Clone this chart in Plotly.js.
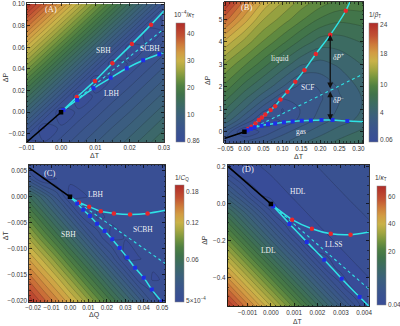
<!DOCTYPE html>
<html><head><meta charset="utf-8">
<script src="https://cdn.plot.ly/plotly-3.0.1.min.js"></script>
<style>html,body{margin:0;padding:0;background:#fff}#chart{width:400px;height:326px}</style>
</head><body><div id="chart"></div>
<script>
// ================= Panel A : 10^-4/kappa_T over (dT, dP) =================
const xGridA = [-0.01, -0.005, 0, 0.005, 0.01, 0.015, 0.02, 0.025, 0.03];
const yGridA = [-0.0275, -0.015, 0, 0.015, 0.03, 0.045, 0.06, 0.075, 0.09, 0.1];
const zA = [
 [1.5, 2.4, 4.2, 5.9, 7.7, 9.5, 11.2, 13.0, 14.7],
 [5.6, 0.9, 2.7, 4.5, 6.2, 8.0, 9.7, 11.5, 13.3],
 [10.5, 5.7, 0.9, 2.7, 4.4, 6.2, 7.9, 9.7, 11.5],
 [15.4, 10.6, 5.8, 1.0, 2.6, 4.4, 6.1, 7.9, 9.7],
 [20.3, 15.5, 10.7, 5.9, 1.1, 2.6, 4.3, 6.1, 7.9],
 [25.3, 20.5, 15.6, 10.8, 6.0, 1.2, 2.5, 4.3, 6.1],
 [30.2, 25.4, 20.6, 15.7, 10.9, 6.1, 1.3, 2.5, 4.3],
 [35.1, 30.3, 25.5, 20.7, 15.9, 11.0, 6.2, 1.4, 2.5],
 [40.0, 35.2, 30.4, 25.6, 20.8, 16.0, 11.2, 6.3, 1.5],
 [43.3, 38.5, 33.7, 28.9, 24.0, 19.2, 14.4, 9.6, 4.8]
];
const barValsA = [0.86, 10, 20, 30, 40];
const barPosA  = [0.014, 0.227, 0.456, 0.681, 0.908];
const barTextA = ['0.86', '10', '20', '30', '40'];
const critA = [0, 0];
const blackA_x = [-0.01, 0], blackA_y = [-0.0275, 0];
const redA_x = [0.0046, 0.0099, 0.015, 0.0207, 0.0263];
const redA_y = [0.014, 0.029, 0.0454, 0.063, 0.081];
const redFitA_x = [0, 0.0046, 0.0099, 0.015, 0.0207, 0.0263, 0.03];
const redFitA_y = [0, 0.014, 0.029, 0.0454, 0.063, 0.081, 0.0935];
const blueA_x = [0.0007, 0.0047, 0.0095, 0.0145, 0.0192, 0.024, 0.0287];
const blueA_y = [0.0021, 0.0114, 0.0222, 0.0318, 0.0407, 0.0481, 0.0537];
const blueFitA_x = [0, 0.0007, 0.0047, 0.0095, 0.0145, 0.0192, 0.024, 0.0287, 0.03];
const blueFitA_y = [0, 0.0021, 0.0114, 0.0222, 0.0318, 0.0407, 0.0481, 0.0537, 0.0552];
const widomA_x = [0, 0.03], widomA_y = [0, 0.077];

// ================= Panel B : 1/beta_T =================
const xGridB = [-0.053, 0, 0.05, 0.1, 0.15, 0.2, 0.25, 0.313];
const yGridB = [-0.5, 0, 0.5, 1, 1.5, 2, 3, 4, 5, 5.77];
const zB = [
 [1.5, 2.0, 2.5, 3.2, 4.0, 4.8, 5.6, 6.5],
 [2.5, 0.06, 1.2, 2.2, 3.0, 3.8, 4.6, 5.5],
 [5.0, 2.5, 0.6, 1.0, 2.0, 2.9, 3.7, 4.5],
 [6.5, 4.0, 2.0, 0.9, 1.8, 2.6, 3.4, 4.2],
 [8.0, 5.5, 3.5, 1.8, 1.8, 2.4, 3.2, 4.2],
 [9.5, 7.0, 5.0, 3.3, 2.2, 2.6, 3.4, 4.5],
 [12.5, 10.0, 8.0, 6.0, 4.2, 3.8, 4.3, 5.3],
 [16.5, 13.5, 11.0, 9.0, 7.2, 5.8, 5.8, 6.5],
 [21.0, 17.5, 14.0, 12.0, 10.0, 8.5, 7.8, 8.0],
 [24.0, 20.0, 16.5, 14.0, 12.0, 10.5, 9.5, 9.5]
];
const barValsB = [0.06, 4, 10, 18, 24];
const barPosB  = [0.017, 0.246, 0.485, 0.745, 0.989];
const barTextB = ['0.06', '4', '10', '18', '24'];
const critB = [0, 0];
const blackB_x = [-0.053, -0.025, 0], blackB_y = [-0.3, -0.14, 0];
const redB_x = [0.0097, 0.0185, 0.029, 0.038, 0.046, 0.055, 0.069, 0.081, 0.095, 0.113, 0.134, 0.158, 0.188, 0.226, 0.267];
const redB_y = [0.12, 0.22, 0.37, 0.52, 0.64, 0.77, 0.97, 1.14, 1.44, 1.78, 2.22, 2.74, 3.46, 4.31, 5.38];
const redFitB_x = [0].concat(redB_x, [0.278]);
const redFitB_y = [0].concat(redB_y, [5.77]);
const blueB_x = [0.002, 0.008, 0.017, 0.027, 0.045, 0.062, 0.081, 0.104, 0.127, 0.151, 0.175, 0.203, 0.232, 0.271];
const blueB_y = [0.02, 0.07, 0.13, 0.2, 0.27, 0.33, 0.37, 0.42, 0.46, 0.49, 0.5, 0.52, 0.52, 0.48];
const blueFitB_x = [0].concat(blueB_x, [0.313]);
const blueFitB_y = [0].concat(blueB_y, [0.45]);
const widomB_x = [0, 0.1, 0.2, 0.313], widomB_y = [0, 0.8, 1.62, 2.57];
const deltaP_x = 0.226;
const deltaP_y = [4.31, 1.86, 0.52];   // liquid spinodal, Widom line, gas spinodal

// ================= Panel C : 1/C_Q over (dQ, dT) =================
const xGridC = [-0.0222, -0.015, -0.0075, 0, 0.0075, 0.015, 0.0225, 0.03, 0.0375, 0.045, 0.0518];
const yGridC = [-0.0203, -0.016, -0.012, -0.008, -0.004, 0, 0.0035, 0.0062];
const zC = [
 [0.186, 0.167, 0.148, 0.129, 0.110, 0.090, 0.071, 0.052, 0.033, 0.013, 0.0007],
 [0.159, 0.140, 0.121, 0.102, 0.082, 0.063, 0.044, 0.025, 0.0055, 0.0011, 0.0019],
 [0.133, 0.115, 0.096, 0.076, 0.057, 0.038, 0.019, 0.0005, 0.0014, 0.0022, 0.003],
 [0.108, 0.089, 0.070, 0.051, 0.032, 0.0126, 0.0008, 0.0016, 0.0025, 0.0033, 0.0041],
 [0.083, 0.064, 0.045, 0.026, 0.0066, 0.0011, 0.0019, 0.0027, 0.0036, 0.0044, 0.0052],
 [0.057, 0.039, 0.020, 0.0005, 0.0013, 0.0022, 0.003, 0.0038, 0.0047, 0.0055, 0.0063],
 [0.016, 0.001, 0.0015, 0.002, 0.0023, 0.0031, 0.004, 0.0048, 0.0056, 0.0065, 0.0072],
 [0.001, 0.003, 0.004, 0.005, 0.0055, 0.006, 0.0065, 0.007, 0.0075, 0.008, 0.0085]
];
const barValsC = [0.0005, 0.06, 0.12, 0.18];
const barPosC  = [0.014, 0.365, 0.68, 0.946];
const barTextC = ['5×10<sup>−4</sup>', '0.06', '0.12', '0.18'];
const critC = [0, 0];
const blackC_x = [-0.0222, 0], blackC_y = [0.0056, 0];
const redC_x = [0.0048, 0.0104, 0.0167, 0.0238, 0.0326, 0.0421];
const redC_y = [-0.0011, -0.0019, -0.0028, -0.0032, -0.0034, -0.0032];
const redFitC_x = [0].concat(redC_x, [0.0518]);
const redFitC_y = [0].concat(redC_y, [-0.0026]);
const blueC_x = [0.0039, 0.0072, 0.0108, 0.0147, 0.0188, 0.0229, 0.0269, 0.031, 0.0353, 0.04, 0.0444, 0.0496];
const blueC_y = [-0.0013, -0.0025, -0.0037, -0.0052, -0.0066, -0.0082, -0.0099, -0.0117, -0.0137, -0.0156, -0.0179, -0.0202];
const blueFitC_x = [0].concat(blueC_x, [0.0505]);
const blueFitC_y = [0].concat(blueC_y, [-0.0206]);
const widomC_x = [0, 0.0518], widomC_y = [0, -0.0129];

// ================= Panel D : 1/kappa_T (liquid-liquid) =================
const xGridD = [-0.00186, -0.0012, -0.0006, 0, 0.0006, 0.0012, 0.0018, 0.0024, 0.003, 0.0036, 0.00421];
const yGridD = [-0.553, -0.45, -0.35, -0.25, -0.15, -0.05, 0.05, 0.15, 0.212];
const zD = [
 [63.6, 54.7, 46.7, 38.6, 30.3, 22.1, 16.9, 12.7, 8.5, 4.3, 0.06],
 [53.1, 44.2, 36.0, 27.8, 19.8, 15.6, 11.4, 7.2, 3.0, 0.16, 0.57],
 [42.8, 33.8, 25.6, 18.7, 14.5, 10.3, 6.1, 1.9, 0.27, 0.67, 1.08],
 [32.4, 23.4, 17.5, 13.3, 9.1, 5.0, 0.77, 0.37, 0.78, 1.19, 1.6],
 [22.0, 16.4, 12.2, 8.0, 3.8, 0.08, 0.48, 0.89, 1.29, 1.7, 2.1],
 [15.7, 11.1, 6.9, 2.7, 0.19, 0.59, 1.0, 1.4, 1.8, 2.2, 2.6],
 [8.9, 4.75, 0.95, 0.3, 0.7, 1.11, 1.51, 1.92, 2.32, 2.73, 3.14],
 [3.14, 0.3, 0.5, 0.81, 1.22, 1.62, 2.03, 2.43, 2.84, 3.24, 3.65],
 [0.1, 0.5, 0.8, 1.13, 1.53, 1.94, 2.34, 2.75, 3.15, 3.56, 3.96]
];
const barValsD = [0.04, 20, 40, 60];
const barPosD  = [0.0, 0.449, 0.678, 0.911];
const barTextD = ['0.04', '20', '40', '60'];
const critD = [0, 0];
const blackD_x = [-0.00186, 0], blackD_y = [0.204, 0];
const redD_x = [0.00091, 0.00176, 0.00257, 0.00342];
const redD_y = [-0.085, -0.134, -0.161, -0.166];
const redFitD_x = [0].concat(redD_x, [0.00421]);
const redFitD_y = [0].concat(redD_y, [-0.151]);
const blueD_x = [0.0001, 0.0008, 0.00154, 0.00229, 0.00304, 0.00381];
const blueD_y = [-0.012, -0.108, -0.205, -0.301, -0.404, -0.503];
const blueFitD_x = [0].concat(blueD_x, [0.00421]);
const blueFitD_y = [0].concat(blueD_y, [-0.553]);
const widomD_x = [0, 0.00421], widomD_y = [0, -0.46];

// ================= styling / helpers =================
const baseScale = [
 [0.00,'#384c98'],[0.12,'#3a558c'],[0.22,'#3b607c'],[0.32,'#3c6b62'],
 [0.40,'#40734b'],[0.47,'#4f8042'],[0.54,'#75953e'],[0.61,'#a3a641'],
 [0.68,'#c9b248'],[0.75,'#d29c43'],[0.82,'#cd7a3a'],[0.89,'#c25233'],[1.00,'#b02c29']
];
const CYAN = '#2fe3e6', RED = '#e8262b', BLUE = '#1f2ee6';
const px = X => X / 400, py = Y => 1 - Y / 326;

function toPos(v, kv, kp) {
  const n = kv.length; let i = 0;
  if (v <= kv[0]) i = 0; else if (v >= kv[n-1]) i = n - 2; else { while (v > kv[i+1]) i++; }
  return kp[i] + (v - kv[i]) * (kp[i+1] - kp[i]) / (kv[i+1] - kv[i]);
}
function axn(k) { return k === 1 ? '' : String(k); }
function contourTrace(xg, yg, zg, kv, kp, n, k) {
  const z = zg.map(r => r.map(v => Math.min(1, Math.max(0, toPos(v, kv, kp)))));
  const s = 1 / n;
  return {type:'contour', x:xg, y:yg, z:z, xaxis:'x'+axn(k), yaxis:'y'+axn(k),
    colorscale: baseScale, autocontour:false,
    contours:{start:s/2, end:1-s/2+1e-9, size:s, coloring:'fill', showlines:true},
    line:{color:'rgba(20,20,20,0.38)', width:0.5, smoothing:1},
    showscale:false, hoverinfo:'skip'};
}
function cbTrace(k, crit, kp, labels, left, bottom, lenPx) {
  return {type:'scatter', mode:'markers', x:[crit[0]], y:[crit[1]], xaxis:'x'+axn(k), yaxis:'y'+axn(k),
    hoverinfo:'skip',
    marker:{size:1, opacity:0, color:[0.5], cmin:0, cmax:1, colorscale:baseScale, showscale:true,
      colorbar:{x:px(left), xanchor:'left', xref:'paper', y:py(bottom), yanchor:'bottom', yref:'paper',
        len:lenPx, lenmode:'pixels', thickness:9, thicknessmode:'pixels', xpad:0, ypad:0,
        outlinewidth:0.5, outlinecolor:'#888', tickmode:'array', tickvals:kp, ticktext:labels,
        ticks:'', tickfont:{family:'Liberation Sans, Arial', size:6.5, color:'#444'},
        title:{text:''}}}};
}
function lineTrace(xs, ys, k, color, width, dash) {
  return {type:'scatter', mode:'lines', x:xs, y:ys, xaxis:'x'+axn(k), yaxis:'y'+axn(k),
    line:{color:color, width:width, dash:dash||'solid', shape:'spline', smoothing:0.6}, hoverinfo:'skip'};
}
function markTrace(xs, ys, k, color, symbol, size) {
  return {type:'scatter', mode:'markers', x:xs, y:ys, xaxis:'x'+axn(k), yaxis:'y'+axn(k),
    marker:{color:color, symbol:symbol, size:size, line:{width:0}}, hoverinfo:'skip'};
}
function panel(k, g, crit, bl, red, redFit, blue, blueFit, widom) {
  return [
    contourTrace(g.x, g.y, g.z, g.kv, g.kp, g.n, k),
    lineTrace(bl[0], bl[1], k, '#000', 1.6),
    lineTrace(widom[0], widom[1], k, CYAN, 1.1, 'dot'),
    lineTrace(redFit[0], redFit[1], k, CYAN, 1.5),
    lineTrace(blueFit[0], blueFit[1], k, CYAN, 1.5),
    markTrace(red[0], red[1], k, RED, 'circle', 4.5),
    markTrace(blue[0], blue[1], k, BLUE, 'square', 4),
    markTrace([crit[0]], [crit[1]], k, '#000', 'square', 4.5)
  ];
}

const data = [].concat(
  panel(1, {x:xGridA, y:yGridA, z:zA, kv:barValsA, kp:barPosA, n:31}, critA, [blackA_x, blackA_y],
        [redA_x, redA_y], [redFitA_x, redFitA_y], [blueA_x, blueA_y], [blueFitA_x, blueFitA_y], [widomA_x, widomA_y]),
  panel(2, {x:xGridB, y:yGridB, z:zB, kv:barValsB, kp:barPosB, n:22}, critB, [blackB_x, blackB_y],
        [redB_x, redB_y], [redFitB_x, redFitB_y], [blueB_x, blueB_y], [blueFitB_x, blueFitB_y], [widomB_x, widomB_y]),
  panel(3, {x:xGridC, y:yGridC, z:zC, kv:barValsC, kp:barPosC, n:25}, critC, [blackC_x, blackC_y],
        [redC_x, redC_y], [redFitC_x, redFitC_y], [blueC_x, blueC_y], [blueFitC_x, blueFitC_y], [widomC_x, widomC_y]),
  panel(4, {x:xGridD, y:yGridD, z:zD, kv:barValsD, kp:barPosD, n:28}, critD, [blackD_x, blackD_y],
        [redD_x, redD_y], [redFitD_x, redFitD_y], [blueD_x, blueD_y], [blueFitD_x, blueFitD_y], [widomD_x, widomD_y]),
  [cbTrace(1, critA, barPosA, barTextA, 177, 142, 119),
   cbTrace(2, critB, barPosB, barTextB, 372, 142, 119),
   cbTrace(3, critC, barPosC, barTextC, 176, 302.3, 117),
   cbTrace(4, critD, barPosD, barTextD, 380, 304.7, 119)]
);

function ax(domain, range, dtick, fmt, minor, anchor) {
  return {domain:domain, range:range, dtick:dtick, tick0:0, tickformat:fmt, anchor:anchor, tickangle:0,
    showline:true, linecolor:'#000', linewidth:0.8, mirror:'allticks', ticks:'inside', ticklen:3,
    tickwidth:0.7, tickcolor:'#000', showgrid:false, zeroline:false, fixedrange:true,
    tickfont:{family:'Liberation Sans, Arial', size:6.3, color:'#333'},
    minor:{ticks:'inside', ticklen:1.6, tickwidth:0.5, tickcolor:'#000', dtick:minor, showgrid:false}};
}

const ann = [];
function txt(k, x, y, t, size, extra) {
  ann.push(Object.assign({xref:'x'+axn(k), yref:'y'+axn(k), x:x, y:y, text:t, showarrow:false,
    xanchor:'center', yanchor:'middle',
    font:{family:'Liberation Serif, Times New Roman, serif', size:size||7.5, color:'rgba(255,255,255,0.93)'}}, extra||{}));
}
function ptxt(X, Y, t, size, angle) {
  ann.push({xref:'paper', yref:'paper', x:px(X), y:py(Y), text:t, showarrow:false, textangle:angle||0,
    xanchor:'center', yanchor:'middle',
    font:{family:'Liberation Sans, Arial', size:size||7, color:'#333'}});
}
// panel and region labels
txt(1, -0.0029, 0.0956, '(A)', 8.5); txt(1, 0.0123, 0.057, 'SBH'); txt(1, 0.0259, 0.0593, 'SCBH'); txt(1, 0.0148, 0.017, 'LBH');
txt(2, 0.008, 5.53, '(B)', 8.5); txt(2, 0.093, 3.27, 'liquid'); txt(2, 0.167, 1.98, 'SCF'); txt(2, 0.149, 0.03, 'gas');
txt(2, 0.248, 3.31, '<i>δP</i><sup>+</sup>'); txt(2, 0.248, 1.41, '<i>δP</i><sup>−</sup>');
txt(3, -0.0108, 0.0046, '(C)', 8.5); txt(3, 0.0143, 0.0005, 'LBH'); txt(3, 0.0394, -0.0063, 'SCBH'); txt(3, -0.0009, -0.0073, 'SBH');
txt(4, -0.001, 0.189, '(D)', 8.5); txt(4, 0.00115, 0.069, 'HDL'); txt(4, 0.00272, -0.22, 'LLSS'); txt(4, -0.00012, -0.25, 'LDL');
// delta P arrows
[[deltaP_y[0], deltaP_y[1]], [deltaP_y[2], deltaP_y[1]]].forEach(p => {
  ann.push({xref:'x2', yref:'y2', axref:'x2', ayref:'y2', x:deltaP_x, y:p[0], ax:deltaP_x, ay:p[1], text:'',
    showarrow:true, arrowside:'end+start', arrowhead:2, startarrowhead:2, arrowsize:0.9, startarrowsize:0.9,
    arrowwidth:1.3, arrowcolor:'#111', standoff:0, startstandoff:0});
});
// axis titles
ptxt(96, 155.5, 'ΔT'); ptxt(5.5, 76.7, 'ΔP', 7, -90);
ptxt(301.7, 156, 'ΔT'); ptxt(208.5, 80, 'ΔP', 7, -90);
ptxt(95, 314.5, 'ΔQ'); ptxt(5.5, 234.7, 'ΔT', 7, -90);
ptxt(300, 321.5, 'ΔT', 6.8); ptxt(206.7, 239.7, 'ΔP', 7, -90);
// colorbar titles
ptxt(185, 15, '10<sup>−4</sup>/<i>κ</i><sub>T</sub>', 6.5);
ptxt(378, 15, '1/<i>β</i><sub>T</sub>', 6.5);
ptxt(183, 178, '1/<i>C</i><sub>Q</sub>', 6.5);
ptxt(384, 178, '1/<i>κ</i><sub>T</sub>', 6.5);

const layout = {
  width:400, height:326, margin:{l:0, r:0, t:0, b:0}, paper_bgcolor:'#fff', plot_bgcolor:'#fff',
  showlegend:false, hovermode:false,
  xaxis:  ax([0.0675, 0.4125], [-0.01, 0.03], 0.01, '.2f', 0.0025, 'y'),
  yaxis:  ax([0.5644, 0.9908], [-0.0275, 0.101], 0.02, '.2f', 0.005, 'x'),
  xaxis2: ax([0.565, 0.915], [-0.053, 0.313], 0.05, '.2f', 0.01, 'y2'),
  yaxis2: ax([0.5613, 0.9939], [-0.5, 5.77], 1, 'd', 0.2, 'x2'),
  xaxis3: ax([0.0733, 0.4168], [-0.0222, 0.0518], 0.01, '.2f', 0.002, 'y3'),
  yaxis3: ax([0.0736, 0.4948], [-0.0203, 0.0062], 0.005, '.3f', 0.001, 'x3'),
  xaxis4: ax([0.5733, 0.9293], [-0.00186, 0.00421], 0.001, '.3f', 0.0002, 'y4'),
  yaxis4: ax([0.0604, 0.4948], [-0.553, 0.212], 0.2, '.1f', 0.05, 'x4'),
  annotations: ann
};
Plotly.newPlot('chart', data, layout, {staticPlot:true, displayModeBar:false});
</script></body></html>
